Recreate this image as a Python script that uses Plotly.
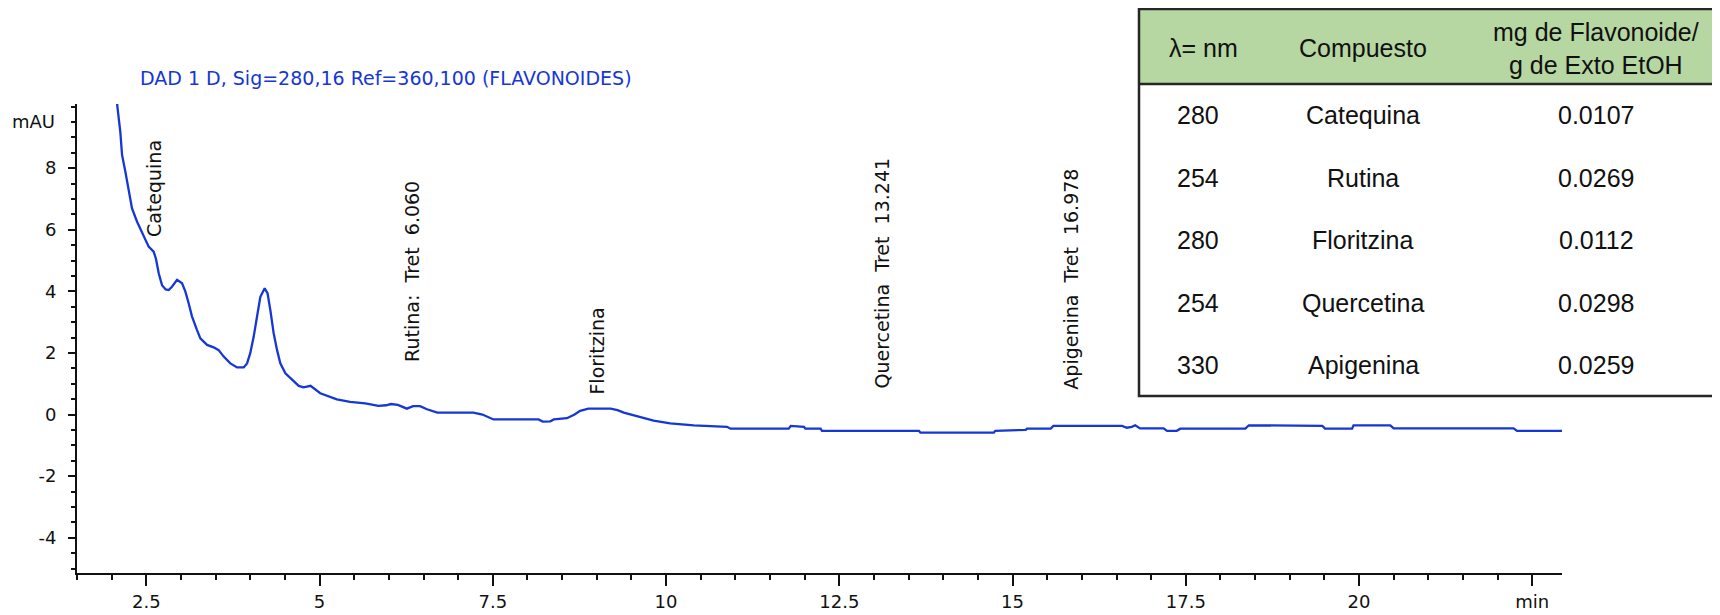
import plotly.graph_objects as go

# ---------------- data ----------------
time_min = [2.07, 2.08, 2.125, 2.15, 2.198, 2.246, 2.294, 2.367, 2.46, 2.534, 2.606, 2.64, 2.68, 2.727,
            2.78, 2.823, 2.87, 2.944, 3.016, 3.064, 3.111, 3.16, 3.232, 3.28, 3.377, 3.472, 3.544, 3.617,
            3.713, 3.81, 3.905, 3.954, 4.0, 4.05, 4.098, 4.146, 4.208, 4.25, 4.29, 4.338, 4.387, 4.434,
            4.507, 4.603, 4.70, 4.77, 4.87, 5.01, 5.16, 5.25, 5.44, 5.66, 5.85, 5.96, 6.03, 6.13, 6.26,
            6.35, 6.45, 6.55, 6.70, 7.22, 7.35, 7.51, 8.16, 8.22, 8.33, 8.38, 8.57, 8.68, 8.76, 8.88,
            9.20, 9.30, 9.39, 9.58, 9.82, 10.06, 10.40, 10.88, 10.93, 11.77, 11.80, 11.99, 12.01, 12.23,
            12.25, 13.65, 13.67, 14.73, 14.75, 15.19, 15.21, 15.55, 15.59, 16.58, 16.65, 16.72, 16.77,
            16.84, 17.18, 17.23, 17.37, 17.42, 18.36, 18.41, 19.47, 19.51, 19.90, 19.92, 20.45, 20.50,
            22.23, 22.28, 22.93]
signal_mau = [10.5, 10.05, 9.18, 8.43, 7.88, 7.23, 6.69, 6.26, 5.83, 5.45, 5.29, 5.05, 4.58, 4.20,
              4.06, 4.04, 4.15, 4.37, 4.26, 3.99, 3.61, 3.18, 2.74, 2.47, 2.26, 2.18, 2.09, 1.88,
              1.66, 1.53, 1.53, 1.66, 1.99, 2.53, 3.18, 3.82, 4.10, 3.93, 3.39, 2.64, 2.09, 1.66,
              1.34, 1.12, 0.93, 0.88, 0.93, 0.69, 0.58, 0.49, 0.41, 0.36, 0.28, 0.30, 0.34, 0.31, 0.19,
              0.27, 0.27, 0.17, 0.06, 0.06, 0.0, -0.16, -0.16, -0.23, -0.22, -0.16, -0.12, 0.0, 0.12, 0.19,
              0.19, 0.14, 0.06, -0.05, -0.20, -0.29, -0.35, -0.40, -0.46, -0.46, -0.37, -0.40, -0.46, -0.46,
              -0.53, -0.53, -0.59, -0.59, -0.53, -0.50, -0.46, -0.46, -0.37, -0.37, -0.43, -0.40, -0.35,
              -0.45, -0.45, -0.53, -0.53, -0.46, -0.46, -0.35, -0.37, -0.46, -0.46, -0.35, -0.35, -0.45,
              -0.45, -0.53, -0.53]

peak_labels = ["Catequina", "Rutina:  Tret  6.060", "Floritzina",
               "Quercetina  Tret  13.241", "Apigenina  Tret  16.978"]
peak_label_x = [2.62, 6.34, 9.01, 13.11, 15.85]
peak_label_y = [5.70, 1.64, 0.58, 0.78, 0.74]

x_tick_vals = [2.5, 5, 7.5, 10, 12.5, 15, 17.5, 20, 22.5]
x_tick_text = ["2.5", "5", "7.5", "10", "12.5", "15", "17.5", "20", "min"]
y_tick_vals = [-4, -2, 0, 2, 4, 6, 8]
y_tick_text = ["-4", "-2", "0", "2", "4", "6", "8"]

title_text = "DAD 1 D, Sig=280,16 Ref=360,100 (FLAVONOIDES)"

table_header = ["λ= nm", "Compuesto", "mg de Flavonoide/<br>g de Exto EtOH"]
wavelengths = ["280", "254", "280", "254", "330"]
compounds = ["Catequina", "Rutina", "Floritzina", "Quercetina", "Apigenina"]
contents = ["0.0107", "0.0269", "0.0112", "0.0298", "0.0259"]

# ---------------- layout geometry (window pixels; page body has an 8px margin) ----------------
OFF = 8
W, H = 1720 - OFF, 615 - OFF
L, R, T, B = 77 - OFF, 1562 - OFF, 104 - OFF, 573 - OFF


def px_x(px):
    return (px - OFF - L) / (R - L)


def px_y(py):
    return (B - (py - OFF)) / (B - T)


BLUE = "#1537d6"
AX_FONT = dict(family="DejaVu Sans", size=18, color="#111111")

fig = go.Figure()
fig.add_trace(go.Scatter(x=time_min, y=signal_mau, mode="lines",
                         line=dict(color=BLUE, width=2.3), showlegend=False, hoverinfo="skip"))

annotations = []
for txt, xv, yv in zip(peak_labels, peak_label_x, peak_label_y):
    annotations.append(dict(x=xv, y=yv, xref="x", yref="y", text=txt.replace("  ", "\u00a0 "),
                            textangle=-90, showarrow=False, xanchor="center", yanchor="bottom",
                            font=dict(family="DejaVu Sans", size=19, color="#111111")))

annotations.append(dict(x=px_x(386), y=px_y(78), xref="paper", yref="paper", text=title_text,
                        showarrow=False, xanchor="center", yanchor="middle",
                        font=dict(family="DejaVu Sans", size=19, color=BLUE)))
annotations.append(dict(x=px_x(57), y=9.5, xref="paper", yref="y", text="mAU",
                        showarrow=False, xanchor="right", yanchor="middle", font=AX_FONT))

# table
TBL_L, TBL_R, TBL_T, TBL_HB, TBL_B = 1139, 1745, 9, 84, 396
col_centers = [1198, 1363, 1596]
header_x = [1203, 1363, 1596]
row_centers = [115, 178, 240, 303, 365]
TFONT = dict(family="Liberation Sans", size=25, color="#111111")

shapes = [
    dict(type="rect", xref="paper", yref="paper", x0=px_x(TBL_L), x1=px_x(TBL_R),
         y0=px_y(TBL_HB), y1=px_y(TBL_T), fillcolor="#b6d7a1", line=dict(width=0), layer="below"),
    dict(type="rect", xref="paper", yref="paper", x0=px_x(TBL_L), x1=px_x(TBL_R),
         y0=px_y(TBL_B), y1=px_y(TBL_T), fillcolor="rgba(0,0,0,0)", line=dict(color="#262626", width=2.5)),
    dict(type="line", xref="paper", yref="paper", x0=px_x(TBL_L), x1=px_x(TBL_R),
         y0=px_y(TBL_HB), y1=px_y(TBL_HB), line=dict(color="#262626", width=2.5)),
]

header_y = [48, 48, 48]
for txt, cx, cy in zip(table_header, header_x, header_y):
    annotations.append(dict(x=px_x(cx), y=px_y(cy), xref="paper", yref="paper", text=txt,
                            showarrow=False, xanchor="center", yanchor="middle", font=TFONT))
for i, ry in enumerate(row_centers):
    for cx, col in zip(col_centers, [wavelengths, compounds, contents]):
        annotations.append(dict(x=px_x(cx), y=px_y(ry), xref="paper", yref="paper", text=col[i],
                                showarrow=False, xanchor="center", yanchor="middle", font=TFONT))

fig.update_layout(
    width=W, height=H,
    margin=dict(l=L, r=W - R, t=T, b=H - B, pad=0),
    paper_bgcolor="white", plot_bgcolor="white",
    showlegend=False,
    annotations=annotations,
    shapes=shapes,
)
fig.update_xaxes(range=[1.5, 1.5 + (R - L) / 69.3], showgrid=False, zeroline=False,
                 showline=True, linecolor="#111111", linewidth=2,
                 ticks="outside", ticklen=11, tickwidth=1.5, tickcolor="#111111",
                 tickmode="array", tickvals=x_tick_vals, ticktext=x_tick_text,
                 tickfont=AX_FONT, automargin=False,
                 minor=dict(tickmode="linear", tick0=0, dtick=0.5, ticks="outside",
                            ticklen=5, tickwidth=1.5, tickcolor="#111111", showgrid=False))
fig.update_yaxes(range=[(414.5 - 573) / 30.8, (414.5 - 104) / 30.8], showgrid=False, zeroline=False,
                 showline=True, linecolor="#111111", linewidth=2,
                 ticks="outside", ticklen=7, tickwidth=1.5, tickcolor="#111111",
                 tickmode="array", tickvals=y_tick_vals, ticktext=y_tick_text,
                 tickfont=AX_FONT, automargin=False, ticklabelstandoff=8,
                 minor=dict(tickmode="linear", tick0=0, dtick=0.5, ticks="outside",
                            ticklen=4.5, tickwidth=1.5, tickcolor="#111111", showgrid=False))

fig.write_html("out.html")
